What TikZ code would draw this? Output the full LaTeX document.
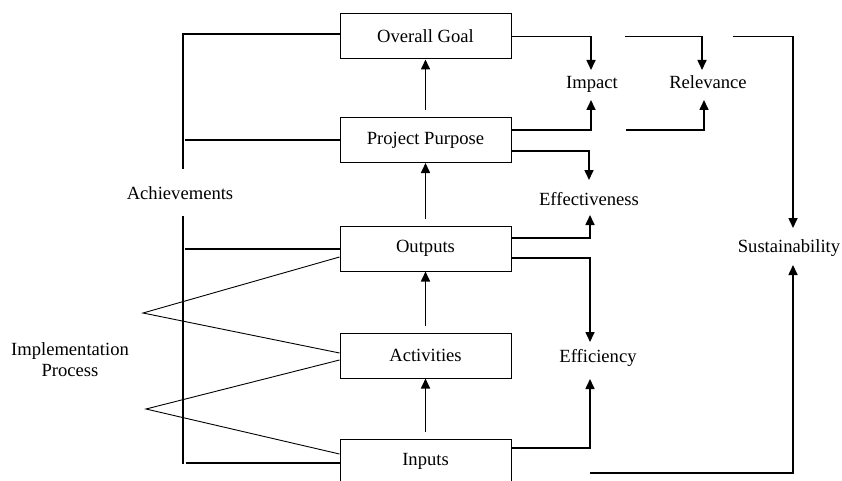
\documentclass[tikz,border=0pt]{standalone}
\usepackage{fontspec}
\setmainfont{Liberation Serif}
\usetikzlibrary{arrows.meta}
\begin{document}
\begin{tikzpicture}[x=1pt,y=-1pt,
  box/.style={draw,line width=1pt,minimum width=171pt,minimum height=45pt,inner sep=0pt,font=\fontsize{18.6}{21}\selectfont},
  lbl/.style={inner sep=0pt,font=\fontsize{18.6}{21}\selectfont,align=center},
  arr/.style={line width=1.6pt,-{Triangle[length=10pt,width=9pt]}},
  thk/.style={line width=2pt},
  thn/.style={line width=0.9pt}]
\useasboundingbox (0,0) rectangle (842,481);
% boxes
\node[box] (og) at (425.5,36.5) {Overall Goal};
\node[box] (pp) at (425.5,140) {Project Purpose};
\node[box] (out) at (425.5,248.5) {Outputs};
\node[box] (act) at (425.5,355.5) {Activities};
\node[box] (inp) at (425.5,461.5) {Inputs};
% labels
\node[lbl] (impact) at (592,84) {Impact};
\node[lbl] (relev) at (708,82) {Relevance};
\node[lbl] (effect) at (589,199) {Effectiveness};
\node[lbl] (effic) at (598,358) {Efficiency};
\node[lbl] (sust) at (789,248) {Sustainability};
\node[lbl] (achv) at (180,193) {Achievements};
\node[lbl] (impl) at (70,359.5) {Implementation\\[0pt]Process};
% vertical box arrows
\draw[arr,shorten <=7pt] (pp.north) -- (og.south);
\draw[arr,shorten <=7pt] (out.north) -- (pp.south);
\draw[arr,shorten <=7pt] (act.north) -- (out.south);
\draw[arr,shorten <=7pt] (inp.north) -- (act.south);
% coordinates
\coordinate (impT) at (591,70);
\coordinate (impB) at (591,100);
\coordinate (relS1) at (625,36.5);
\coordinate (relT) at (702,70);
\coordinate (relS2) at (626,130);
\coordinate (relB) at (704,100);
\coordinate (susS1) at (733,36.5);
\coordinate (susT) at (793,228);
\coordinate (susS2) at (590,473);
\coordinate (susB) at (793,265);
\coordinate (efT) at (589,180);
\coordinate (efB) at (590,215);
\coordinate (eiT) at (590,342);
\coordinate (eiB) at (590,379);
% right side arrows
\draw[arr] (og.east) -| (impT);
\draw[arr] ([yshift=10pt]pp.east) -| (impB);
\draw[arr] (relS1) -| (relT);
\draw[arr] (relS2) -| (relB);
\draw[arr] (susS1) -| (susT);
\draw[arr] (susS2) -| (susB);
\draw[arr] ([yshift=-11pt]pp.east) -| (efT);
\draw[arr] ([yshift=10.5pt]out.east) -| (efB);
\draw[arr] ([yshift=-9.5pt]out.east) -| (eiT);
\draw[arr] ([yshift=13.5pt]inp.east) -| (eiB);
% achievements
\coordinate (a1) at (183,33);
\coordinate (a2) at (183,169);
\coordinate (a3) at (183,216);
\coordinate (a4) at (183,464);
\draw[thk] (a1) -- (a2);
\draw[thk] (a3) -- (a4);
\draw[thk] ([yshift=2pt]og.west) -- ([yshift=2pt,xshift=-158pt]og.west);
\draw[thk] (pp.west) -- ([xshift=-155pt]pp.west);
\draw[thk] (out.west) -- ([xshift=-155pt]out.west);
\draw[thk] ([yshift=-1.5pt]inp.west) -- ([yshift=-1.5pt,xshift=-154pt]inp.west);
% implementation process
\coordinate (ip1) at (143,313);
\coordinate (ip2) at (146,409);
\draw[thn] ([yshift=-8.5pt]out.west) -- (ip1) -- ([yshift=2.5pt]act.west);
\draw[thn] ([yshift=-4.5pt]act.west) -- (ip2) -- ([yshift=7.5pt]inp.west);
\end{tikzpicture}
\end{document}
